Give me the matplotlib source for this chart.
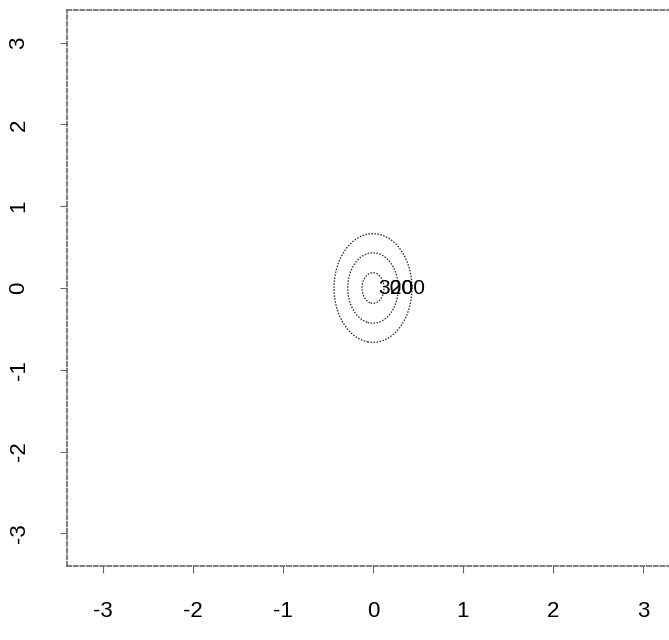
import numpy as np
import matplotlib
matplotlib.use('Agg')
import matplotlib.pyplot as plt
from matplotlib import font_manager as fm

# contour levels and the density peak
levels = [100, 200, 300]
peak = 330.0
center = (0.0, 0.0)
spread = (0.28, 0.43)
ticks = [-3, -2, -1, 0, 1, 2, 3]
label_levels = [300, 200]
label_x = [0.06, 0.19]

names = {f.name for f in fm.fontManager.ttflist}
font = 'Liberation Sans Narrow' if 'Liberation Sans Narrow' in names else 'Liberation Sans'
plt.rcParams['font.family'] = [font, 'DejaVu Sans']

gx = np.linspace(-3.4, 3.4, 400)
gy = np.linspace(-3.4, 3.4, 400)
X, Y = np.meshgrid(gx, gy)
Z = peak * np.exp(-0.5 * (((X - center[0]) / spread[0]) ** 2 + ((Y - center[1]) / spread[1]) ** 2))

fig = plt.figure(figsize=(6.69, 6.40), dpi=100)
ax = fig.add_axes([67 / 669, 74 / 640, 612 / 669, 556 / 640])

ax.contour(X, Y, Z, levels=levels, colors='#222222', linewidths=0.9,
           linestyles=[(0, (1.2, 1.2))])

for lv, lx in zip(label_levels, label_x):
    ax.text(lx, 0.0, str(lv), fontsize=15, ha='left', va='center', color='black')

ax.set_xlim(-3.4, 3.4)
ax.set_ylim(-3.4, 3.4)
ax.set_xticks(ticks)
ax.set_yticks(ticks)
ax.set_xticklabels([str(t) for t in ticks], fontsize=16)
ax.set_yticklabels([str(t) for t in ticks], fontsize=16, rotation=90, va='center')
ax.tick_params(axis='both', direction='out', length=5, width=0.8, color='#666666')
ax.tick_params(axis='x', pad=20)
ax.tick_params(axis='y', pad=22)

for s in ax.spines.values():
    s.set_linestyle((0, (2.5, 1.5)))
    s.set_color('#666666')
    s.set_linewidth(1.2)

fig.savefig('out.png', dpi=100)
